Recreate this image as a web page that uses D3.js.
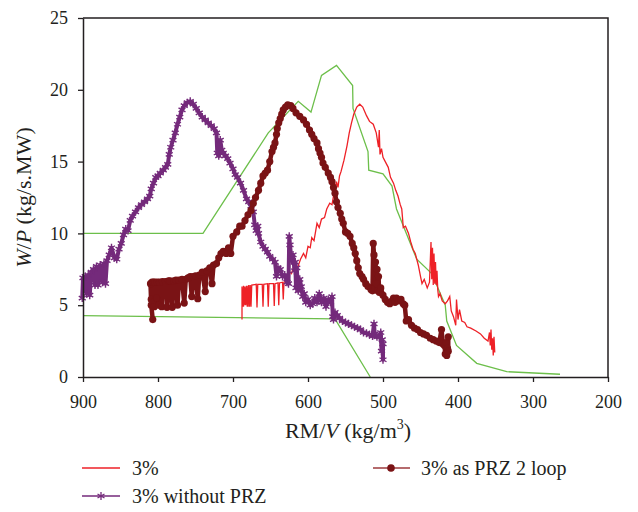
<!DOCTYPE html>
<html><head><meta charset="utf-8">
<script src="https://cdn.jsdelivr.net/npm/d3@7"></script>
<style>body{margin:0;background:#fff}svg{display:block}svg text{fill:#231f20}</style>
</head><body><svg id="c" width="638" height="512"></svg>
<script>
const xTicks=[900,800,700,600,500,400,300,200];
const yTicks=[0,5,10,15,20,25];
const seriesNames=["3%","3% without PRZ","3% as PRZ 2 loop"];
const greenUpper=[[900,10],[740,10],[653,17.0],[613,19.2],[596,18.45],[582,21.0],[562,21.7],[540.5,20.3],[540,18.7],[520,15.7],[519,14.4],[500,14.15],[488,13.3],[482,11.7],[455,8.2],[435,7.2],[417,5.0],[415,3.9],[402,2.2],[375,0.95],[335,0.37],[264,0.19]];
const greenLower=[[900,4.27],[564,4.05],[517,0]];
const red3=[[688,4.0],[688,6.3],[687,4.9],[686,6.35],[686,4.9],[685,6.3],[684,5.0],[684,6.3],[683,5.0],[682,6.35],[681,4.9],[680,6.35],[680,4.9],[679,6.4],[678,4.9],[677,6.4],[676,4.9],[675,6.4],[669,6.45],[668,4.85],[667,6.45],[661,6.45],[660,4.9],[659,6.45],[654,6.5],[653,4.9],[652,6.5],[646,6.5],[645,4.95],[644,6.5],[640,6.55],[639,5.0],[638,6.55],[634,6.6],[633,5.4],[632,6.6],[628,6.7],[626,7.4],[622,7.2],[618,7.9],[614,7.6],[610,8.2],[606,8.6],[603,8.3],[600,9.1],[597,9.0],[595,9.7],[592,9.5],[588,10.7],[585,10.4],[582,11.0],[578,11.1],[575,11.7],[571,12.1],[568,12.0],[565,12.9],[562,13.6],[560,13.2],[558,14.0],[556,14.3],[552,15.1],[548,16.1],[545,17.0],[542,17.7],[539,18.3],[535,18.8],[531,19.0],[527,18.8],[522,18.2],[518,17.8],[513,17.6],[509,17.0],[506,16.0],[505,17.2],[504,15.5],[502,15.9],[500,15.3],[497,15.0],[493,14.6],[490,13.9],[486,13.5],[483,13.0],[480,12.6],[477,12.0],[475,11.7],[474,11.1],[473,10.4],[470,10.5],[466,10.0],[463,9.4],[460,8.9],[457,8.6],[453,7.8],[450,7.0],[448,6.5],[445,6.8],[441,6.2],[438,6.6],[436,9.4],[435,6.8],[434,9.0],[433,6.4],[432,8.6],[431,6.5],[430,8.0],[429,6.4],[428,7.4],[427,6.1],[426,5.6],[424,5.8],[421,5.3],[417,5.1],[414,5.3],[411,5.6],[409,4.6],[406,4.2],[403,3.6],[402,5.4],[400,4.0],[398,4.7],[395,3.9],[391,3.8],[388,3.5],[383,3.4],[376,3.2],[370,3.0],[365,2.7],[360,2.5],[358,3.1],[357,2.2],[356,3.3],[355,1.9],[354,2.7],[353,1.5],[352,2.8],[351,1.7]];
const prz2=[[807,4.0],[809,5.0],[810,6.5],[809,5.4],[808,6.6],[807,5.2],[806,6.6],[805,4.9],[804,6.6],[802,5.5],[801,6.6],[799,5.0],[798,6.6],[795,4.9],[794,6.65],[790,6.65],[788,4.85],[786,6.7],[784,6.7],[781,4.85],[779,6.7],[776,6.75],[774,5.0],[772,6.75],[768,6.8],[765,5.15],[763,6.8],[760,6.9],[757,7.0],[755,5.6],[753,7.0],[750,7.05],[747,5.45],[745,7.1],[741,7.3],[737,5.95],[735,7.4],[731,7.6],[728,6.5],[726,7.8],[722,7.9],[719,8.3],[716,8.6],[713,8.75],[709,8.6],[706,9.0],[703,8.6],[700,9.8],[695,10.1],[691,10.5],[688,10.5],[684,10.9],[680,11.3],[676,11.6],[673,12.1],[670,12.5],[666,13.0],[663,13.5],[660,14.0],[657,14.2],[654,14.4],[651,15.0],[648,15.7],[646,16.0],[644,16.3],[642,16.9],[641,17.3],[639,17.7],[637,18.0],[635,18.3],[633,18.6],[630,18.8],[627,18.95],[623,18.9],[620,18.7],[616,18.4],[611,18.15],[606,17.9],[602,17.6],[598,17.2],[595,16.9],[592,16.6],[588,16.3],[586,15.9],[584,15.6],[582,15.3],[580,14.9],[577,14.6],[573,14.2],[570,13.9],[568,13.6],[566,13.2],[564,12.8],[562,12.2],[560,11.8],[557,11.4],[555,11.0],[553,10.7],[550,10.1],[547,10.0],[544,9.8],[541,9.3],[539,9.0],[537,8.6],[535,8.1],[533,7.6],[531,7.2],[528,7.0],[526,6.8],[523,6.5],[520,6.3],[516,6.1],[514,6.0],[513,9.3],[512,8.5],[511,6.2],[510,8.0],[509,6.5],[508,7.5],[507,6.0],[506,7.0],[505,5.9],[503,6.2],[500,5.7],[497,5.4],[494,5.2],[491,5.1],[488,5.3],[486,5.5],[484,5.2],[482,5.5],[479,5.3],[476,5.4],[473,5.1],[471,5.0],[469,3.9],[466,4.0],[462,3.6],[458,3.4],[454,3.3],[450,3.1],[446,3.0],[442,2.9],[437,2.7],[433,2.6],[429,2.5],[425,2.4],[422,3.3],[420,2.3],[418,2.2],[417,1.6],[416,2.4],[415,1.5],[414,2.0],[413,2.8],[413,1.8]];
const noPrz=[[901,5.5],[900,6.9],[897,7.0],[895,5.8],[893,7.1],[891,5.7],[889,7.3],[886,7.5],[884,6.4],[882,7.7],[880,6.4],[877,7.8],[874,6.6],[872,7.9],[870,6.5],[868,8.1],[865,8.5],[862,9.0],[858,8.3],[855,8.2],[852,8.9],[849,9.3],[846,9.9],[843,10.3],[840,10.2],[837,10.9],[834,11.2],[830,11.5],[826,11.8],[822,12.0],[818,12.2],[814,12.4],[811,12.6],[809,13.1],[806,13.5],[803,13.9],[800,14.0],[797,14.2],[793,14.4],[790,14.6],[787,14.8],[785,15.5],[783,16.0],[780,16.5],[777,17.0],[774,17.6],[771,18.1],[768,18.6],[765,18.9],[761,19.1],[757,19.2],[753,19.0],[749,18.7],[745,18.4],[741,18.1],[737,17.9],[733,17.7],[729,17.5],[725,17.3],[722,17.0],[721,15.6],[719,15.4],[717,16.5],[715,15.8],[713,15.6],[710,15.4],[707,15.2],[704,14.9],[700,14.5],[697,14.1],[694,13.9],[690,13.5],[686,13.0],[682,12.4],[679,12.2],[676,11.9],[673,11.5],[671,10.6],[669,10.2],[667,10.5],[666,10.0],[663,9.4],[660,9.1],[657,8.9],[654,8.7],[651,8.4],[647,8.2],[644,8.0],[642,7.0],[640,7.6],[637,7.5],[634,7.0],[631,7.1],[628,6.6],[626,6.5],[625,9.8],[624,9.2],[622,8.1],[620,8.5],[618,7.4],[617,8.0],[616,6.2],[615,7.6],[613,6.0],[611,6.8],[609,6.3],[607,5.6],[605,5.8],[603,5.2],[600,5.4],[597,5.0],[594,5.1],[591,5.5],[588,5.2],[585,5.8],[582,5.2],[579,5.5],[576,4.9],[573,5.4],[570,5.2],[568,5.6],[567,4.2],[566,4.0],[564,4.5],[561,4.3],[558,4.1],[554,3.9],[550,3.8],[546,3.7],[542,3.6],[538,3.5],[534,3.4],[530,3.3],[526,3.1],[522,3.05],[518,2.95],[514,2.85],[512,3.7],[511,3.0],[508,2.8],[505,2.8],[503,3.1],[502,1.8],[501,2.6],[500,1.2],[500,2.3]];

const FONT='"Liberation Serif","Tinos","Times New Roman","DejaVu Serif",serif';
const C={green:"#6cbf4a",red:"#ee2127",dark:"#7a1315",purple:"#742a7b",axis:"#231f20"};
const svg=d3.select("#c");
const L=83,R=608,T=18,B=377;
const x=d3.scaleLinear().domain([900,200]).range([L,R]);
const y=d3.scaleLinear().domain([0,25]).range([B,T]);
const line=d3.line().x(d=>x(d[0])).y(d=>y(d[1]));

const plot=svg.append("g");
plot.append("path").datum(greenUpper).attr("d",line).attr("fill","none").attr("stroke",C.green).attr("stroke-width",1.3);
plot.append("path").datum(greenLower).attr("d",line).attr("fill","none").attr("stroke",C.green).attr("stroke-width",1.3);
plot.append("path").datum(red3).attr("d",line).attr("fill","none").attr("stroke",C.red).attr("stroke-width",1.3);

function star(g,cx,cy,s,col,w){
  g.append("path").attr("d",`M${cx},${cy-s}L${cx},${cy+s}M${cx-s*0.87},${cy-s*0.5}L${cx+s*0.87},${cy+s*0.5}M${cx-s*0.87},${cy+s*0.5}L${cx+s*0.87},${cy-s*0.5}`).attr("stroke",col).attr("stroke-width",w||1.3).attr("fill","none");
}
plot.append("path").datum(noPrz).attr("d",line).attr("fill","none").attr("stroke",C.purple).attr("stroke-width",4).attr("stroke-linejoin","round");
const pg=plot.append("g");
noPrz.forEach(d=>star(pg,x(d[0]),y(d[1]),4,C.purple,1.4));

plot.append("path").datum(prz2).attr("d",line).attr("fill","none").attr("stroke",C.dark).attr("stroke-width",4.5).attr("stroke-linejoin","round");
plot.append("g").selectAll("circle").data(prz2).join("circle").attr("cx",d=>x(d[0])).attr("cy",d=>y(d[1])).attr("r",3.6).attr("fill",C.dark);

// frame
svg.append("path").attr("d",`M${L},${T}H${R}V${B}`).attr("fill","none").attr("stroke",C.axis).attr("stroke-width",1.5);
const ax=svg.append("g").attr("transform",`translate(0,${B})`).call(d3.axisBottom(x).tickValues(xTicks).tickSize(5).tickPadding(13).tickSizeOuter(0));
const ay=svg.append("g").attr("transform",`translate(${L},0)`).call(d3.axisLeft(y).tickValues(yTicks).tickSize(5).tickPadding(10).tickSizeOuter(0));
[ax,ay].forEach(a=>{a.attr("font-family",FONT);a.select(".domain").attr("stroke",C.axis).attr("stroke-width",1.5);a.selectAll(".tick line").attr("stroke",C.axis).attr("stroke-width",1.3);a.selectAll("text").attr("font-size",18).attr("font-family",FONT).attr("fill",C.axis);});

// axis titles
const xt=svg.append("text").attr("x",348).attr("y",438).attr("text-anchor","middle").attr("font-size",22).attr("font-family",FONT);
xt.append("tspan").text("RM/");xt.append("tspan").attr("font-style","italic").text("V");xt.append("tspan").text(" (kg/m");
xt.append("tspan").attr("font-size",14).attr("dy",-9).text("3");xt.append("tspan").attr("dy",9).text(")");
const yt=svg.append("text").attr("transform",`translate(31,${(T+B)/2}) rotate(-90)`).attr("text-anchor","middle").attr("font-size",22).attr("font-family",FONT);
yt.append("tspan").attr("font-style","italic").text("W");yt.append("tspan").text("/");yt.append("tspan").attr("font-style","italic").text("P");yt.append("tspan").text(" (kg/s.MW)");

// legend
const r1=468,r2=496;
const lg=svg.append("g").attr("font-family",FONT);
lg.append("line").attr("x1",82).attr("x2",120).attr("y1",r1).attr("y2",r1).attr("stroke",C.red).attr("stroke-width",1.5);
lg.append("text").attr("x",132).attr("y",r1+7).attr("font-size",20).text(seriesNames[0]);
lg.append("line").attr("x1",82).attr("x2",120).attr("y1",r2).attr("y2",r2).attr("stroke",C.purple).attr("stroke-width",1.5);
star(lg,101,r2,4,C.purple);
lg.append("text").attr("x",132).attr("y",r2+7).attr("font-size",20).text(seriesNames[1]);
lg.append("line").attr("x1",373).attr("x2",410).attr("y1",r1).attr("y2",r1).attr("stroke","#9c3a3c").attr("stroke-width",1.5);
lg.append("circle").attr("cx",391).attr("cy",r1).attr("r",3.8).attr("fill",C.dark);
lg.append("text").attr("x",421).attr("y",r1+7).attr("font-size",20).text(seriesNames[2]);
</script></body></html>
